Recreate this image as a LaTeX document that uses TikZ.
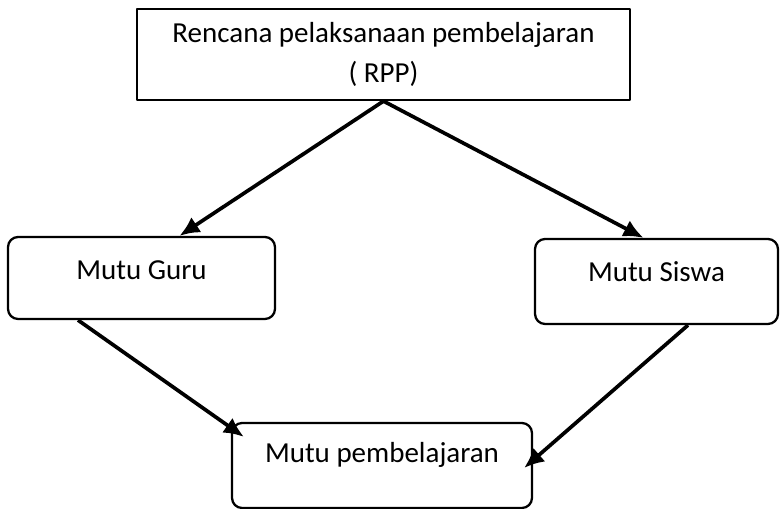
\documentclass[tikz,border=0pt]{standalone}
\usepackage{fontspec}
\setmainfont{Carlito}
\usetikzlibrary{arrows.meta}

\begin{document}
\begin{tikzpicture}[x=0.02cm, y=-0.02cm, line join=round,
    font=\fontsize{16.5}{22.8}\selectfont,
    planbox/.style={draw=black, line width=1.3pt, inner sep=0pt, align=center},
    roundbox/.style={planbox, rounded corners=0.2cm, text height=0.38cm},
    flow/.style={line width=2.1pt, -{Latex[length=4mm,width=3.6mm]}}]

\useasboundingbox (0,0) rectangle (781,509);

% ---------- boxes ----------
\node[planbox, minimum width=9.86cm, minimum height=1.82cm] (rpp) at (383.5,54.5)
  {Rencana pelaksanaan pembelajaran\\( RPP)};
\node[roundbox, text depth=0.3cm, minimum width=5.34cm, minimum height=1.64cm] (guru) at (141.5,278) {Mutu Guru};
\node[roundbox, text depth=0.36cm, minimum width=4.86cm, minimum height=1.7cm] (siswa) at (656.5,281.5) {Mutu Siswa};
\node[roundbox, text depth=0.48cm, minimum width=6.0cm, minimum height=1.7cm] (mutu) at (382,465.5) {Mutu pembelajaran};

% ---------- arrows ----------
\draw[flow] (rpp.south) -- ([xshift=0.76cm]guru.north);
\draw[flow] (rpp.south) -- ([xshift=-0.26cm]siswa.north);
\draw[flow] ([xshift=-1.27cm]guru.south) -- ([xshift=0.26cm,yshift=-0.3cm]mutu.north west);
\draw[flow] ([xshift=0.63cm]siswa.south) -- ([xshift=-0.18cm,yshift=-0.05cm]mutu.east);

\end{tikzpicture}
\end{document}
